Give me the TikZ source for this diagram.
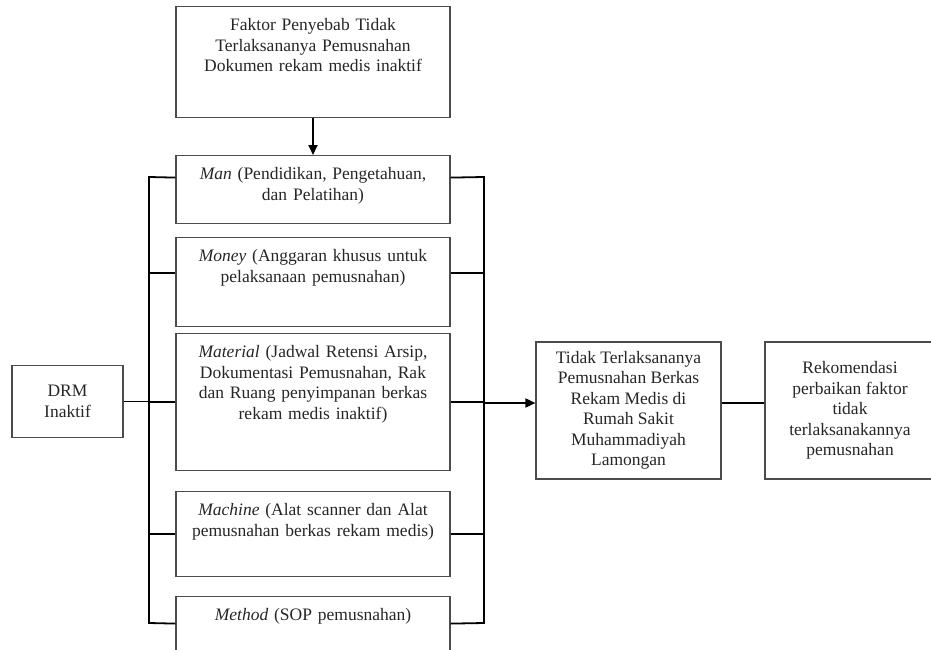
\documentclass[tikz,border=0pt]{standalone}
\usepackage{fontspec}
\setmainfont{Liberation Serif}
\usetikzlibrary{arrows.meta}

\begin{document}
\begin{tikzpicture}[x=1pt, y=-1pt, font=\fontsize{17.5}{20.5}\selectfont]
    % Define styles
    \tikzstyle{factor} = [rectangle, draw=black!70, line width=1.2pt, anchor=north, text width=260pt, inner xsep=7pt, inner ysep=0pt, align=center, text height=24pt, text=black!85]
    \tikzstyle{block} = [rectangle, draw=black!70, line width=1.2pt, align=center, inner sep=4pt, text=black!85]
    \tikzstyle{link} = [line width=1.8pt, black]
    \tikzstyle{arrow} = [link, -{Triangle[length=10pt,width=9pt]}]

    \useasboundingbox (0,0) rectangle (931,650);
    \clip (0,0) rectangle (931,650);

    % Nodes
    \node (faktor) [factor, text depth=87pt] at (313,6) {Faktor Penyebab Tidak\\Terlaksananya Pemusnahan\\Dokumen rekam medis inaktif};
    \node (man) [factor, text depth=44pt] at (313,155) {\textit{Man} (Pendidikan, Pengetahuan,\\dan Pelatihan)};
    \node (money) [factor, text depth=65pt] at (313,237) {\textit{Money} (Anggaran khusus untuk\\pelaksanaan pemusnahan)};
    \node (material) [factor, text depth=113pt] at (313,333) {\textit{Material} (Jadwal Retensi Arsip,\\Dokumentasi Pemusnahan, Rak\\dan Ruang penyimpanan berkas\\rekam medis inaktif)};
    \node (machine) [factor, text depth=61pt] at (313,491) {\textit{Machine} (Alat scanner dan Alat\\pemusnahan berkas rekam medis)};
    \node (method) [factor, text depth=40pt] at (313,596) {\textit{Method} (SOP pemusnahan)};
    \node (drm) [block, minimum width=111pt, minimum height=72pt] at (67.5,401.5) {DRM\\Inaktif};
    \node (result) [block, minimum width=185pt, minimum height=137pt] at (628.5,410.5) {Tidak Terlaksananya\\Pemusnahan Berkas\\Rekam Medis di\\Rumah Sakit\\Muhammadiyah\\Lamongan};
    \node (rekom) [block, minimum width=170pt, minimum height=137pt] at (850,410.5) {Rekomendasi\\perbaikan faktor\\tidak\\terlaksanakannya\\pemusnahan};

    % Bus corners
    \coordinate (ltop) at (149,177);
    \coordinate (lbot) at (149,623);
    \coordinate (rtop) at (484,177);
    \coordinate (rbot) at (484,623);

    % Arrows
    \draw [arrow] (faktor) -- (man);
    \draw [link] ([yshift=12pt]man.west) -- (ltop) -- (lbot) -- ([yshift=5pt]method.west);
    \draw [link] ([yshift=12pt]man.east) -- (rtop) -- (rbot) -- ([yshift=5pt]method.east);
    \draw [link] ([yshift=9.5pt]money.west) -- ([yshift=9.5pt]money.west -| ltop);
    \draw [link] ([yshift=9.5pt]money.east) -- ([yshift=9.5pt]money.east -| rtop);
    \draw [link] (material.west) -- (material.west -| ltop);
    \draw [link] (material.east) -- (material.east -| rtop);
    \draw [link] (machine.west) -- (machine.west -| ltop);
    \draw [link] (machine.east) -- (machine.east -| rtop);
    \draw [link] (drm.east) -- (drm.east -| ltop);
    \draw [arrow] ([yshift=7.5pt]result.west -| rtop) -- ([yshift=7.5pt]result.west);
    \draw [link] ([yshift=7.5pt]result.east) -- ([yshift=7.5pt]rekom.west);
\end{tikzpicture}
\end{document}
